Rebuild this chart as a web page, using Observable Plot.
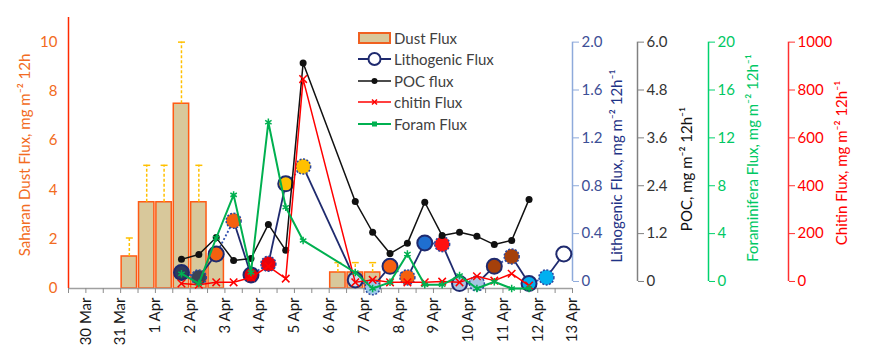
<!DOCTYPE html>
<html><head><meta charset="utf-8">
<script src="https://cdn.jsdelivr.net/npm/d3@7"></script>
<script src="https://cdn.jsdelivr.net/npm/@observablehq/plot@0.6"></script>
<style>
body{margin:0;background:#fff;font-family:Lato,sans-serif}
#wrap{position:relative;width:879px;height:355px}
#legend{position:absolute;left:358px;top:27px;font:15px Lato,sans-serif;color:#404040}
.item{height:21.5px;display:flex;align-items:center}
.item svg{margin-right:3px;flex:none}
</style></head><body><div id="wrap"><div id="legend"></div></div>
<script>
// ---------- data ----------
const dayLabels = ["30 Mar","31 Mar","1 Apr","2 Apr","3 Apr","4 Apr","5 Apr","6 Apr","7 Apr","8 Apr","9 Apr","10 Apr","11 Apr","12 Apr","13 Apr"];
const dustStart = ["31 Mar 00:00","31 Mar 12:00","1 Apr 00:00","1 Apr 12:00","2 Apr 00:00","2 Apr 12:00","6 Apr 00:00","6 Apr 12:00","7 Apr 00:00"];
const dustFlux  = [1.3, 3.5, 3.5, 7.5, 3.5, 1.3, 0.65, 0.65, 0.65];
const dustError = [2.05, 5, 5, 10, 5, null, 1.05, 1.05, 1.05];

const sampleTimes = ["1 Apr 18:00","2 Apr 06:00","2 Apr 18:00","3 Apr 06:00","3 Apr 18:00","4 Apr 06:00","4 Apr 18:00","5 Apr 06:00",
  "6 Apr 18:00","7 Apr 06:00","7 Apr 18:00","8 Apr 06:00","8 Apr 18:00","9 Apr 06:00","9 Apr 18:00","10 Apr 06:00","10 Apr 18:00","11 Apr 06:00","11 Apr 18:00"];
const lithoTimes = sampleTimes.concat(["12 Apr 06:00","12 Apr 18:00"]);
const lithoFlux  = [0.13,0.09,0.28,0.55,0.11,0.20,0.85,0.99,0.07,0.01,0.18,0.09,0.37,0.36,0.04,0.04,0.18,0.26,0.04,0.09,0.28];
const pocFlux    = [0.71,0.83,1.24,0.68,0.73,1.56,0.93,5.49,2.12,1.37,0.85,1.10,2.10,1.29,1.37,1.27,1.07,1.17,2.17];
const chitinFlux = [20,15,25,25,45,90,40,850,25,35,25,25,25,28,25,50,32,60,12];
const foramFlux  = [1.2,0.4,4.1,7.6,1.3,13.5,6.6,3.9,1.3,0,0.5,2.8,0.3,0.3,1.05,0,0.55,0,0];

const leftTicks   = [0,2,4,6,8,10];
const lithoTicks  = [0,0.4,0.8,1.2,1.6,2.0];
const pocTicks    = [0,1.2,2.4,3.6,4.8,6.0];
const foramTicks  = [0,4,8,12,16,20];
const chitinTicks = [0,200,400,600,800,1000];

// styles (kept separate from values)
const lithoFills = ["#2e3a5c","#3a4254","#f5600f","#f5600f","#e8000b","#e8000b","#ffc000","#ffc000","#c9e1f2","#9cc8ea",
  "#f5600f","#f5600f","#1f6fd0","#ff1010","#a7c4e2","#a7c4e2","#a5400b","#a5400b","#00b0f0","#00b0f0","#ffffff"];

// ---------- build ----------
const parse = d3.utcParse("%d %b %H:%M");
const xMin = parse("29 Mar 12:00"), xMax = parse("13 Apr 00:00");
const halfDays = d3.utcHour.every(12).range(xMin, new Date(+xMax + 1));
const dayDates = dayLabels.map(s => parse(s + " 00:00"));
const dayLabelMap = new Map(dayDates.map((d, i) => [+d, dayLabels[i]]));

const dust = dustStart.map((s, i) => {
  const t = parse(s);
  return {start: t, end: d3.utcHour.offset(t, 12), mid: d3.utcHour.offset(t, 6), v: dustFlux[i], err: dustError[i]};
});
const dustErr = dust.filter(d => d.err != null);

const TOP = 10;          // right-axis maxima line up with left "10"
const AXIS_ZERO = 0.285; // right axes' zero sits a little above the baseline in the source
const sy = (v, max) => v / max * TOP;
const ay = (v, max) => AXIS_ZERO + v / max * (TOP - AXIS_ZERO);

const litho = lithoTimes.map((s, i) => ({t: parse(s), y: sy(lithoFlux[i], 2), fill: lithoFills[i], i}));
const poc = sampleTimes.map((s, i) => ({t: parse(s), y: sy(pocFlux[i], 6)}));
const chitin = sampleTimes.map((s, i) => ({t: parse(s), y: sy(chitinFlux[i], 1000)}));
const foram = sampleTimes.map((s, i) => ({t: parse(s), y: sy(foramFlux[i], 20)}));
const segs = d3.pairs(litho).map(([a, b], i) => ({a, b, dotted: i % 2 === 0}));

const hline = {draw(ctx, size) { const r = Math.sqrt(size / Math.PI); ctx.moveTo(-r, 0); ctx.lineTo(r, 0); }};

const fmt1 = v => v === 0 ? "0" : v.toFixed(1);
const fmt0 = v => String(v);
const rightAxes = [
  {ticks: lithoTicks, max: 2, fmt: fmt1, dx: 0, line: "#8eaadb", text: "#3d4f96", title: "Lithogenic Flux, mg m⁻² 12h⁻¹", tcol: "#1f3386", tdx: 45, tdy: 13},
  {ticks: pocTicks, max: 6, fmt: fmt1, dx: 65, line: "#808080", text: "#333", title: "POC, mg m⁻² 12h⁻¹", tcol: "#111", tdx: 115, tdy: 16},
  {ticks: foramTicks, max: 20, fmt: fmt0, dx: 136, line: "#00d26e", text: "#00c864", title: "Foraminifera Flux, mg m⁻² 12h⁻¹", tcol: "#00c864", tdx: 181, tdy: 5},
  {ticks: chitinTicks, max: 1000, fmt: fmt0, dx: 216, line: "#ff3030", text: "#ff0000", title: "Chitin Flux, mg m⁻² 12h⁻¹", tcol: "#ff0000", tdx: 270, tdy: 10}
];
const axisMarks = rightAxes.flatMap(a => {
  const pos = a.ticks.map(t => ay(t, a.max));
  const m = new Map(pos.map((p, i) => [p, a.fmt(a.ticks[i])]));
  return [
    Plot.ruleX([xMax], {y1: ay(0, a.max), y2: ay(a.max, a.max), dx: a.dx, stroke: a.line, strokeWidth: 1.5}),
    Plot.axisY(pos, {anchor: "right", dx: a.dx, tickSize: 6, tickPadding: 3, stroke: a.line, fill: a.text, tickFormat: p => m.get(p), label: null}),
    Plot.text([a.title], {frameAnchor: "right", textAnchor: "middle", dx: a.tdx, dy: a.tdy, rotate: -90, fill: a.tcol, text: d => d})
  ];
});

const chart = Plot.plot({
  width: 879, height: 355,
  marginLeft: 68, marginRight: 307, marginTop: 17, marginBottom: 67,
  style: {fontFamily: "Lato, sans-serif", fontSize: "15px", background: "transparent"},
  color: {type: "identity"},
  x: {type: "utc", domain: [xMin, xMax]},
  y: {domain: [0, 11]},
  marks: [
    Plot.rectY(dust, {x1: "start", x2: "end", y: "v", fill: "#d8c89b", stroke: "#ff5a14", strokeWidth: 1.5, insetLeft: 1, insetRight: 1}),
    Plot.ruleX(dustErr, {x: "mid", y1: "v", y2: "err", stroke: "#ffc000", strokeWidth: 1.5, strokeDasharray: "3,2"}),
    Plot.dot(dustErr, {x: "mid", y: "err", symbol: hline, r: 3.5, stroke: "#ffc000", strokeWidth: 1.5}),
    Plot.ruleY([0], {stroke: "#a0a0a0", strokeWidth: 1.5}),
    Plot.ruleX([xMin], {y1: 0, y2: 11, stroke: "#ff2a00", strokeWidth: 1.5}),
    Plot.axisX(halfDays, {tickSize: 5, stroke: "#8c8c8c", fill: "none", label: null}),
    Plot.axisX(dayDates, {tickSize: 0, tickPadding: 9, tickRotate: -90, fill: "#1a1a1a", tickFormat: d => dayLabelMap.get(+d), label: null}),
    Plot.axisY(leftTicks, {anchor: "left", tickSize: 0, tickPadding: 11, fill: "#f26b21", label: null}),
    Plot.text(["Saharan Dust Flux, mg m⁻² 12h"], {frameAnchor: "left", textAnchor: "middle", dx: -43, dy: 2, rotate: -90, fill: "#f26b21", text: d => d}),
    ...axisMarks,
    // lithogenic
    Plot.link(segs.filter(s => !s.dotted), {x1: d => d.a.t, y1: d => d.a.y, x2: d => d.b.t, y2: d => d.b.y, stroke: "#1f2a6e", strokeWidth: 1.8}),
    Plot.link(segs.filter(s => s.dotted), {x1: d => d.a.t, y1: d => d.a.y, x2: d => d.b.t, y2: d => d.b.y, stroke: "#3050b0", strokeWidth: 1.8, strokeDasharray: "2,2"}),
    Plot.dot(litho.filter(d => d.i % 2 === 0), {x: "t", y: "y", r: 7.5, fill: "fill", stroke: "#1f2a6e", strokeWidth: 2}),
    Plot.dot(litho.filter(d => d.i % 2 === 1), {x: "t", y: "y", r: 7.5, fill: "fill", stroke: "#2a48a0", strokeWidth: 1.5, strokeDasharray: "2,1.5"}),
    // POC
    Plot.line(poc, {x: "t", y: "y", stroke: "#111", strokeWidth: 1.5}),
    Plot.dot(poc, {x: "t", y: "y", r: 3.5, fill: "#111"}),
    // chitin
    Plot.line(chitin, {x: "t", y: "y", stroke: "#ff0000", strokeWidth: 1.5}),
    Plot.dot(chitin, {x: "t", y: "y", symbol: "times", r: 3.5, stroke: "#ff0000", strokeWidth: 1.5}),
    // foram
    Plot.line(foram, {x: "t", y: "y", stroke: "#00b050", strokeWidth: 2}),
    Plot.dot(foram, {x: "t", y: "y", symbol: "asterisk", r: 3.5, stroke: "#00b050", strokeWidth: 1.5})
  ]
});
document.getElementById("wrap").prepend(chart);

// legend
const legendItems = [
  {label: "Dust Flux", sw: `<rect x="1" y="5" width="31" height="10" fill="#d8c89b" stroke="#f06020" stroke-width="2"/>`},
  {label: "Lithogenic Flux", sw: `<line x1="0" y1="10" x2="33" y2="10" stroke="#1f2a6e" stroke-width="1.8"/><circle cx="16.5" cy="10" r="6" fill="#fff" stroke="#1f2a6e" stroke-width="2"/>`},
  {label: "POC flux", sw: `<line x1="0" y1="10" x2="33" y2="10" stroke="#111" stroke-width="1.5"/><circle cx="16.5" cy="10" r="3" fill="#111"/>`},
  {label: "chitin Flux", sw: `<line x1="0" y1="10" x2="33" y2="10" stroke="#ff0000" stroke-width="1.5"/><path d="M14 7.5L19 12.5M19 7.5L14 12.5" stroke="#ff0000" stroke-width="1.5"/>`},
  {label: "Foram Flux", sw: `<line x1="0" y1="10" x2="33" y2="10" stroke="#00b050" stroke-width="2"/><rect x="14" y="7.5" width="5" height="5" fill="#00b050"/>`}
];
document.getElementById("legend").innerHTML = legendItems.map(d =>
  `<div class="item"><svg width="33" height="20">${d.sw}</svg><span>${d.label}</span></div>`).join("");
</script>
</body></html>
